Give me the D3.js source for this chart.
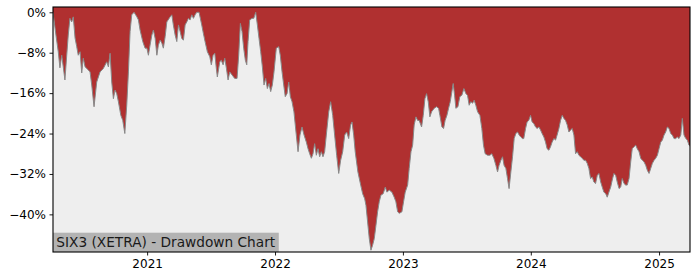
<!DOCTYPE html>
<html><head><meta charset="utf-8">
<script src="https://cdn.jsdelivr.net/npm/d3@7"></script>
<style>body{margin:0;background:#fff}svg{display:block}text{font-family:"DejaVu Sans",sans-serif}</style>
</head><body>
<svg id="chart" width="700" height="280"></svg>
<script>
// Dates as decimal years
const dateYears = [
2020.266,2020.289,2020.307,2020.320,2020.334,2020.346,2020.359,2020.373,2020.385,2020.398,
2020.412,2020.424,2020.438,2020.451,2020.463,2020.477,2020.490,2020.502,2020.516,2020.541,
2020.555,2020.568,2020.586,2020.607,2020.633,2020.659,2020.685,2020.698,2020.711,2020.724,
2020.737,2020.750,2020.763,2020.776,2020.795,2020.810,2020.826,2020.841,2020.854,2020.867,
2020.880,2020.898,2020.920,2020.932,2020.945,2020.966,2020.984,2020.998,2021.010,2021.023,
2021.037,2021.049,2021.063,2021.076,2021.088,2021.102,2021.115,2021.127,2021.141,2021.154,
2021.180,2021.193,2021.205,2021.219,2021.232,2021.245,2021.258,2021.271,2021.284,2021.297,
2021.310,2021.323,2021.336,2021.349,2021.362,2021.375,2021.388,2021.406,2021.427,2021.440,
2021.453,2021.471,2021.490,2021.502,2021.516,2021.529,2021.541,2021.549,2021.568,2021.580,
2021.594,2021.607,2021.620,2021.633,2021.646,2021.664,2021.685,2021.703,2021.716,2021.729,
2021.742,2021.755,2021.768,2021.779,2021.789,2021.802,2021.820,2021.834,2021.849,2021.862,
2021.875,2021.888,2021.901,2021.914,2021.927,2021.940,2021.953,2021.966,2021.979,2021.992,
2022.010,2022.029,2022.041,2022.055,2022.068,2022.080,2022.094,2022.107,2022.120,2022.133,
2022.148,2022.164,2022.180,2022.195,2022.211,2022.227,2022.245,2022.258,2022.271,2022.284,
2022.297,2022.310,2022.323,2022.336,2022.349,2022.362,2022.375,2022.388,2022.401,2022.420,
2022.435,2022.451,2022.466,2022.482,2022.498,2022.513,2022.529,2022.545,2022.560,2022.576,
2022.591,2022.602,2022.615,2022.627,2022.648,2022.670,2022.685,2022.701,2022.711,2022.724,
2022.737,2022.750,2022.763,2022.776,2022.789,2022.802,2022.815,2022.828,2022.846,2022.862,
2022.875,2022.893,2022.914,2022.932,2022.945,2022.959,2022.971,2022.992,2023.005,2023.018,
2023.037,2023.049,2023.063,2023.076,2023.088,2023.102,2023.115,2023.127,2023.146,2023.159,
2023.172,2023.185,2023.198,2023.211,2023.224,2023.245,2023.263,2023.279,2023.289,2023.305,
2023.318,2023.330,2023.344,2023.357,2023.370,2023.383,2023.393,2023.404,2023.414,2023.430,
2023.445,2023.461,2023.477,2023.492,2023.505,2023.518,2023.531,2023.545,2023.557,2023.570,
2023.584,2023.602,2023.617,2023.630,2023.643,2023.662,2023.680,2023.695,2023.711,2023.727,
2023.740,2023.752,2023.766,2023.779,2023.791,2023.805,2023.818,2023.830,2023.844,2023.857,
2023.870,2023.883,2023.896,2023.909,2023.922,2023.935,2023.945,2023.959,2023.971,2023.984,
2023.998,2024.010,2024.023,2024.037,2024.049,2024.063,2024.076,2024.088,2024.102,2024.115,
2024.127,2024.141,2024.154,2024.166,2024.180,2024.193,2024.205,2024.219,2024.232,2024.245,
2024.258,2024.271,2024.284,2024.297,2024.310,2024.323,2024.336,2024.349,2024.362,2024.375,
2024.388,2024.401,2024.414,2024.427,2024.440,2024.453,2024.466,2024.479,2024.492,2024.505,
2024.518,2024.531,2024.545,2024.557,2024.570,2024.584,2024.596,2024.609,2024.623,2024.635,
2024.648,2024.662,2024.674,2024.688,2024.701,2024.713,2024.727,2024.740,2024.752,2024.766,
2024.779,2024.791,2024.805,2024.818,2024.830,2024.844,2024.857,2024.870,2024.883,2024.896,
2024.909,2024.922,2024.935,2024.948,2024.961,2024.974,2024.987,2025.000,2025.013,2025.026,
2025.039,2025.052,2025.065,2025.078,2025.091,2025.104,2025.117,2025.130,2025.143,2025.156,
2025.170,2025.182,2025.195,2025.209,2025.221,2025.234,2025.242
];
// Drawdown in percent
const drawdown = [
0,-4.5,-7.8,-11.0,-8.5,-10.8,-13.4,-8.5,-4.5,-1.2,
-1.9,-0.9,-5.1,-6.8,-8.5,-7.8,-12.0,-9.1,-10.8,-11.4,
-11.8,-14.4,-18.7,-13.8,-11.8,-11.1,-9.8,-10.8,-8.1,-13.8,
-17.1,-15.4,-16.1,-17.7,-20.4,-21.4,-24.0,-18.4,-11.8,-3.8,
-0.5,0,-0.9,-1.5,-3.5,-5.8,-7.1,-7.1,-8.5,-6.5,
-4.5,-3.5,-5.2,-8.5,-6.5,-5.5,-6.1,-7.1,-4.8,-1.9,
-0.9,-0.5,-2.5,-4.5,-5.8,-2.5,-3.8,-5.2,-5.5,-2.5,
-1.9,-1.2,-1.5,-0.5,-1.2,-0.5,0,0,-2.5,-4.2,
-5.8,-7.8,-8.8,-10.4,-8.5,-8.1,-11.1,-12.8,-9.8,-9.5,
-10.4,-9.1,-11.1,-13.4,-11.8,-12.4,-13.1,-13.1,-8.5,-2.2,
-3.8,-7.1,-9.5,-10.4,-5.8,-1.5,-1.2,-1.2,0,-2.5,
-5.2,-7.8,-10.8,-14.4,-13.1,-15.1,-14.1,-15.7,-14.4,-11.8,
-7.1,-6.8,-8.5,-11.8,-14.4,-16.7,-16.1,-13.8,-16.7,-17.7,
-19.7,-23.7,-27.6,-24.3,-22.7,-24.3,-25.7,-27.0,-28.0,-28.9,
-28.0,-26.0,-28.3,-27.0,-28.6,-27.6,-28.6,-27.6,-24.3,-19.7,
-17.7,-20.4,-24.3,-28.3,-31.9,-29.3,-27.6,-24.3,-23.7,-25.0,
-22.3,-21.7,-24.3,-27.6,-31.6,-34.2,-35.9,-36.9,-38.2,-41.5,
-44.8,-47.1,-46.1,-44.8,-42.2,-39.5,-37.5,-36.2,-35.9,-34.6,
-35.6,-35.2,-35.6,-36.6,-37.5,-39.5,-39.8,-39.5,-37.5,-35.6,
-34.2,-30.9,-27.6,-26.3,-22.3,-20.7,-21.4,-21.4,-22.7,-20.4,
-17.1,-16.1,-17.7,-20.7,-19.7,-19.0,-18.7,-19.0,-20.4,-22.7,
-23.0,-21.4,-20.4,-19.0,-17.7,-15.7,-14.1,-16.4,-19.0,-18.7,
-16.7,-16.4,-15.1,-16.1,-16.4,-18.4,-17.7,-18.0,-17.4,-18.4,
-19.7,-20.4,-23.0,-26.3,-28.0,-28.3,-28.3,-28.0,-28.9,-30.3,
-31.6,-30.3,-29.3,-28.6,-30.3,-30.9,-32.9,-34.9,-31.6,-28.6,
-25.0,-24.0,-23.7,-24.3,-24.7,-25.0,-25.0,-23.0,-21.7,-21.4,
-20.4,-21.7,-22.0,-22.7,-23.0,-22.7,-23.3,-24.0,-24.7,-25.7,
-27.0,-27.3,-26.6,-25.7,-25.0,-25.3,-24.3,-23.0,-21.4,-20.4,
-21.0,-21.4,-22.3,-23.7,-23.3,-23.0,-24.3,-28.0,-27.6,-28.3,
-28.6,-28.9,-29.3,-29.3,-29.9,-30.9,-32.9,-32.6,-33.6,-33.9,
-32.3,-31.9,-33.6,-34.6,-35.6,-35.9,-36.6,-35.6,-34.6,-33.2,
-31.9,-32.3,-33.6,-34.9,-34.6,-32.9,-33.9,-34.2,-34.2,-32.9,
-29.6,-27.0,-26.6,-26.3,-27.0,-27.6,-28.9,-29.3,-29.6,-30.3,
-31.3,-31.9,-30.9,-29.9,-29.3,-28.9,-28.3,-27.0,-25.7,-25.3,
-24.3,-23.7,-22.7,-23.0,-24.0,-24.3,-25.0,-25.0,-24.7,-25.0,
-24.3,-21.0,-24.3,-25.0,-25.3,-26.3,-26.5
];
const yTicks = [0, -8, -16, -24, -32, -40];
const xTickYears = [2021, 2022, 2023, 2024, 2025];
const yDomain = [-47.45, 1.05];
const titleText = "SIX3 (XETRA) - Drawdown Chart";

function yearToDate(t) {
  const y = Math.floor(t);
  const s = Date.UTC(y, 0, 1), e = Date.UTC(y + 1, 0, 1);
  return new Date(s + (t - y) * (e - s));
}
const data = dateYears.map((t, i) => ({date: yearToDate(t), v: drawdown[i]}));

const L = 53, R = 690, T = 7, B = 252;
const svg = d3.select("#chart");
const x = d3.scaleUtc().domain(d3.extent(data, d => d.date)).range([L, R]);
const y = d3.scaleLinear().domain(yDomain).range([B, T]);

svg.append("defs").append("clipPath").attr("id", "clip")
  .append("rect").attr("x", L).attr("y", T).attr("width", R - L).attr("height", B - T);

svg.append("rect").attr("x", L).attr("y", T).attr("width", R - L).attr("height", B - T).attr("fill", "#eeeeee");

const g = svg.append("g").attr("clip-path", "url(#clip)");
g.append("path").datum(data)
  .attr("fill", "#b03030")
  .attr("d", d3.area().x(d => x(d.date)).y0(T).y1(d => y(d.v)));
g.append("path").datum(data)
  .attr("fill", "none").attr("stroke", "#888888").attr("stroke-width", 1)
  .attr("d", d3.line().x(d => x(d.date)).y(d => y(d.v)));

// label box
const lbl = svg.append("g");
const txt = lbl.append("text").attr("x", L + 3.3).attr("y", B - 5.2)
  .attr("font-size", "13.7px").attr("fill", "#1a1a1a").text(titleText);
const bb = txt.node().getBBox();
lbl.insert("rect", "text").attr("x", L).attr("y", B - 19.3)
  .attr("width", bb.x + bb.width + 3 - L).attr("height", 19.3).attr("fill", "#b3b3b3");

// axes
const fmt = d => (d < 0 ? "\u2212" + Math.abs(d) : d) + "%";
const yAxis = svg.append("g").attr("transform", `translate(${L},0)`)
  .call(d3.axisLeft(y).tickValues(yTicks).tickFormat(fmt).tickSize(3.5).tickPadding(3.5));
const xAxis = svg.append("g").attr("transform", `translate(0,${B})`)
  .call(d3.axisBottom(x).tickValues(xTickYears.map(yr => new Date(Date.UTC(yr, 0, 1))))
    .tickFormat(d => d.getUTCFullYear()).tickSize(3.5).tickPadding(3.5));
[yAxis, xAxis].forEach(a => {
  a.select(".domain").remove();
  a.selectAll("text").attr("font-size", "12px").attr("fill", "#000").attr("font-family", "DejaVu Sans");
  a.selectAll("line").attr("stroke", "#000").attr("stroke-width", 0.9);
});

svg.append("rect").attr("x", L).attr("y", T).attr("width", R - L).attr("height", B - T)
  .attr("fill", "none").attr("stroke", "#000").attr("stroke-width", 1.1);
</script>
</body></html>
